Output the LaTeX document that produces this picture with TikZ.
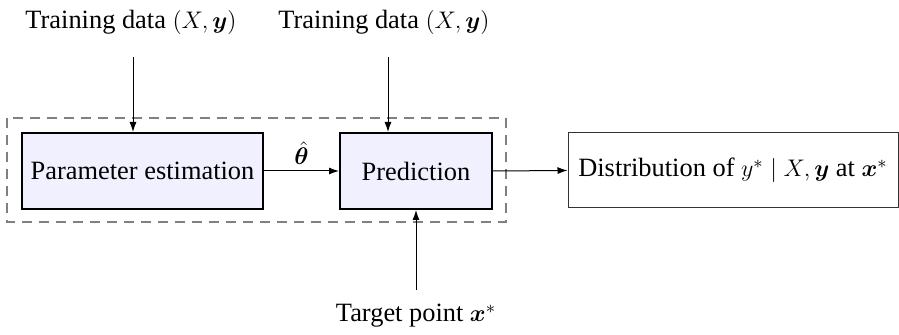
\documentclass[tikz,border=0pt]{standalone}
\usepackage{amsmath,bm}
\usepackage{fontspec}
\setmainfont{Liberation Serif}
\usetikzlibrary{arrows.meta}
\begin{document}
\begin{tikzpicture}[x=0.5pt,y=-0.5pt,
  font=\rmfamily\fontsize{13.2}{15}\selectfont,
  blockbox/.style={draw=black,line width=1pt,fill=blue!6,minimum height=38pt,inner sep=0pt},
  outbox/.style={draw=black!80,line width=0.5pt,minimum height=37.5pt,minimum width=165pt,inner sep=2pt},
  arr/.style={-{Latex[length=5pt,width=3.5pt]},line width=0.5pt},
  grp/.style={draw=black!50,line width=0.8pt,dash pattern=on 5pt off 3.5pt}]
\useasboundingbox (0,0) rectangle (899,335);
\draw[grp] (7,118) rectangle (506,222);
\node[blockbox,minimum width=120.5pt] (pe) at (142.5,171) {Parameter estimation};
\node[blockbox,minimum width=76pt] (pr) at (416,171) {Prediction};
\node[outbox] (out) at (733,170.5) {Distribution of $y^{*}\mid X,\bm{y}$ at $\bm{x}^{*}$};
\node (t1) at (131,22) {Training data $(X,\bm{y})$};
\node (t2) at (384,22) {Training data $(X,\bm{y})$};
\node (tp) at (416,316) {Target point $\bm{x}^{*}$};
\coordinate (a1) at (133,57);
\coordinate (a2) at (388,57);
\coordinate (a3) at (416,290);
\draw[arr] (a1) -- (a1 |- pe.north);
\draw[arr] (a2) -- (a2 |- pr.north);
\draw[arr] (a3) -- (pr.south);
\draw[arr] (pe.east) -- node[above=3pt,inner sep=0pt] {$\hat{\bm{\theta}}$} (pr.west);
\draw[arr] (pr.east) -- (out.west);
\end{tikzpicture}
\end{document}
